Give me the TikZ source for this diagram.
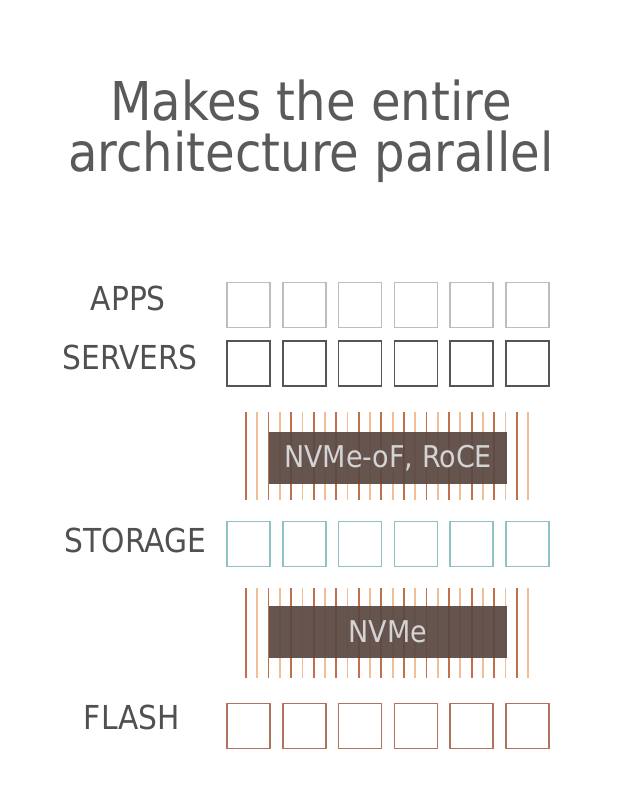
\documentclass[tikz,border=0pt]{standalone}
\usepackage{fontspec}
\setmainfont{DejaVu Sans Condensed}
\definecolor{titlegray}{HTML}{5A5A5A}
\definecolor{labelgray}{HTML}{505050}
\definecolor{appsgray}{HTML}{BDBDBD}
\definecolor{servgray}{HTML}{555555}
\definecolor{storteal}{HTML}{8FC3C6}
\definecolor{flashbrown}{HTML}{B0745E}
\definecolor{barbrown}{HTML}{5B4842}
\definecolor{linedark}{HTML}{C2704C}
\definecolor{linelight}{HTML}{F2BE98}
\definecolor{bartext}{HTML}{D4D4D4}
\begin{document}
\begin{tikzpicture}[x=1pt,y=-1pt,
  cell/.style={draw=#1,line width=1.6pt,minimum width=43pt,minimum height=45pt,inner sep=0pt},
  rowlabel/.style={text=labelgray,font=\fontsize{33}{33}\selectfont,anchor=east,inner sep=0pt},
  bar/.style={fill=barbrown,opacity=0.93,text opacity=1,text=bartext,minimum width=238pt,minimum height=52pt,inner sep=0pt,font=\fontsize{30}{30}\selectfont}]
\useasboundingbox[fill=white] (0,0) rectangle (633,797);
% title
\node[text=titlegray,font=\fontsize{53.5}{51}\selectfont,align=center,inner sep=0pt] (title) at (311,131) {Makes the entire\\architecture parallel};
% rows
\foreach \i in {0,...,5}{
  \node[cell=appsgray] (apps\i) at ({248.5+55.8*\i},305) {};
  \node[cell=servgray] (serv\i) at ({248.5+55.8*\i},363.5) {};
  \node[cell=storteal] (stor\i) at ({248.5+55.8*\i},544) {};
  \node[cell=flashbrown] (flash\i) at ({248.5+55.8*\i},726) {};
}
\node[rowlabel] (lapps) at (166,298) {APPS};
\node[rowlabel] (lserv) at (198,357) {SERVERS};
\node[rowlabel] (lstor) at (206,540) {STORAGE};
\node[rowlabel] (lflash) at (180,717.5) {FLASH};
% line bundles
\foreach \j in {0,...,25}{
  \pgfmathsetmacro{\xx}{246+11.28*\j}
  \ifodd\j
    \draw[linelight,line width=1.8pt] (\xx,412) -- (\xx,500);
    \draw[linelight,line width=1.8pt] (\xx,588) -- (\xx,678);
  \else
    \draw[linedark,line width=1.8pt] (\xx,412) -- (\xx,500);
    \draw[linedark,line width=1.8pt] (\xx,588) -- (\xx,678);
  \fi
}
\node[bar] (net) at (388,458) {NVMe-oF, RoCE};
\node[bar] (nvme) at (388,632) {NVMe};
\end{tikzpicture}
\end{document}
